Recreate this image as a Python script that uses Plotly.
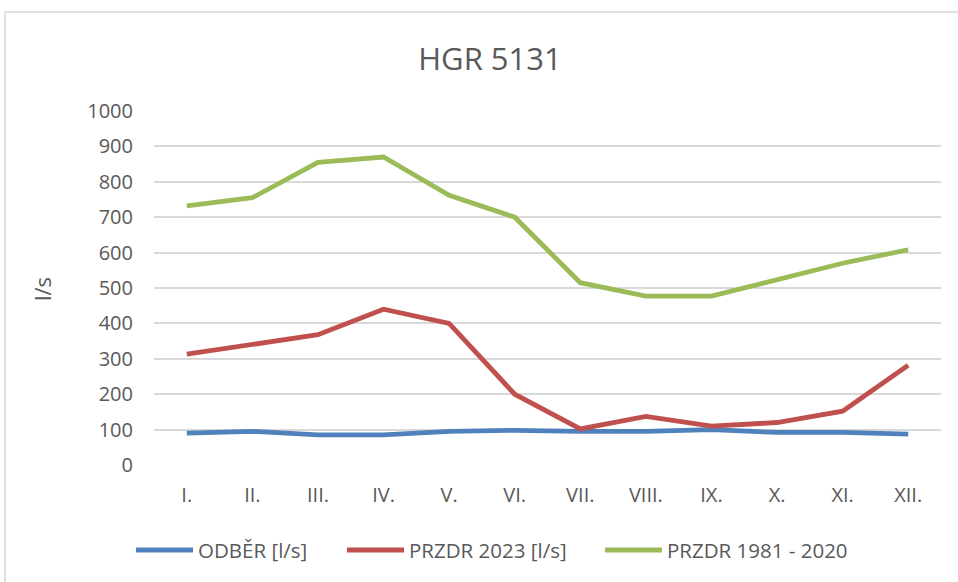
import plotly.graph_objects as go

months = ["I.", "II.", "III.", "IV.", "V.", "VI.", "VII.", "VIII.", "IX.", "X.", "XI.", "XII."]
odber = [90, 95, 85, 85, 95, 98, 95, 95, 100, 92, 92, 87]
przdr_2023 = [313, 340, 368, 440, 400, 200, 102, 137, 110, 120, 152, 282]
przdr_1981_2020 = [732, 755, 855, 870, 762, 700, 515, 477, 477, 525, 570, 608]

series_names = ["ODBĚR [l/s]", "PRZDR 2023 [l/s]", "PRZDR 1981 - 2020"]
series_values = [odber, przdr_2023, przdr_1981_2020]
series_colors = ["#4f81bd", "#c0504d", "#9bbb59"]

FONT = "Open Sans, Noto Sans, sans-serif"
TXT = "#595959"

# body margin is removed by the post script, so window pixels = figure pixels
W, H = 958, 582
PL, PR, PT, PB = 154, 941, 111, 465  # plot area in window pixels
L, R, T, B = PL, W - PR, PT, H - PB
pw, ph = W - L - R, H - T - B

def px_x(p):
    return (p - L) / pw

def px_y(p):
    return (H - B - p) / ph

fig = go.Figure()
for name, vals, color in zip(series_names, series_values, series_colors):
    fig.add_trace(go.Scatter(
        x=months, y=vals, name=name, mode="lines",
        line=dict(color=color, width=4.8), showlegend=False,
    ))

fig.update_layout(
    width=W, height=H,
    margin=dict(l=L, r=R, t=T, b=B, autoexpand=False),
    paper_bgcolor="white", plot_bgcolor="white",
    font=dict(family=FONT, color=TXT, size=20),
    title=dict(text="HGR 5131", x=490 / W, xanchor="center",
               y=1 - 59 / H, yanchor="middle",
               font=dict(size=31, color=TXT, family=FONT)),
    xaxis=dict(type="category", range=[-0.5, 11.5], showgrid=False, zeroline=False,
               showline=False, ticks="", tickfont=dict(size=20, color=TXT),
               ticklabelstandoff=16),
    yaxis=dict(range=[0, 1000], dtick=100, showgrid=True, gridcolor="#d9d9d9", gridwidth=1.6,
               zeroline=False, showline=False, ticks="", tickfont=dict(size=20, color=TXT),
               ticklabelstandoff=20),
    showlegend=False,
)

# y axis title
fig.add_annotation(text="l/s", xref="paper", yref="paper", x=px_x(42), y=px_y(289),
                   xanchor="center", yanchor="middle", textangle=-90, showarrow=False,
                   font=dict(size=22, color=TXT, family=FONT))

# legend drawn beneath the chart
legend_items = [(136, 193), (347, 404), (605, 662)]
LEG_Y = 550
for (lx0, lx1), name, color in zip(legend_items, series_names, series_colors):
    fig.add_shape(type="line", xref="paper", yref="paper",
                  x0=px_x(lx0), x1=px_x(lx1), y0=px_y(LEG_Y), y1=px_y(LEG_Y),
                  line=dict(color=color, width=5))
    fig.add_annotation(text=name, xref="paper", yref="paper", x=px_x(lx1 + 3), y=px_y(LEG_Y),
                       xanchor="left", yanchor="middle", showarrow=False,
                       font=dict(size=20.5, color=TXT, family=FONT))

# chart border
fig.add_shape(type="rect", xref="paper", yref="paper",
              x0=px_x(5), x1=px_x(1000), y0=px_y(640), y1=px_y(12),
              line=dict(color="#d9d9d9", width=1.5), fillcolor="rgba(0,0,0,0)", layer="below")

fig.write_html("out.html", config={"displayModeBar": False},
               post_script="document.body.style.margin='0';document.body.style.overflow='hidden';")
